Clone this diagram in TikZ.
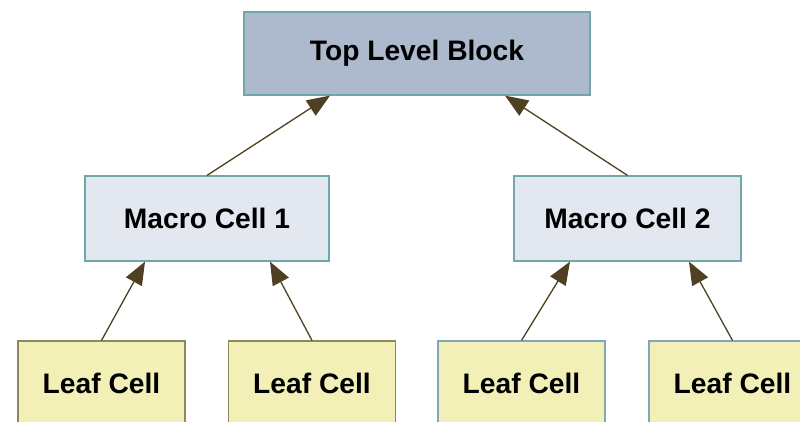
\documentclass[tikz,border=0pt]{standalone}
\usepackage{fontspec}
\setmainfont{Liberation Sans}
\usetikzlibrary{arrows.meta}
\definecolor{topfill}{HTML}{ADBACE}
\definecolor{macrofill}{HTML}{E3E7EF}
\definecolor{leaffill}{HTML}{F2F0B6}
\definecolor{tealline}{HTML}{6FA7AB}
\definecolor{oliveline}{HTML}{8C8A5C}
\definecolor{blueline}{HTML}{80A8B8}
\definecolor{arrowbrown}{HTML}{4E4020}
\tikzstyle{topblock} = [rectangle, minimum width=346pt, minimum height=83pt, text centered, draw=tealline, line width=1.2pt, fill=topfill, font=\fontsize{28.2pt}{33pt}\selectfont\bfseries]
\tikzstyle{macrocell} = [rectangle, minimum height=85pt, text centered, draw=tealline, line width=1.2pt, fill=macrofill, font=\fontsize{28.2pt}{33pt}\selectfont\bfseries]
\tikzstyle{leafcell} = [rectangle, minimum width=167pt, minimum height=85pt, text centered, draw=oliveline, line width=1.2pt, fill=leaffill, font=\fontsize{28.2pt}{33pt}\selectfont\bfseries]
\tikzstyle{arrow} = [line width=1.3pt, draw=arrowbrown, -{Triangle[length=23pt, width=18pt, fill=arrowbrown]}]
\begin{document}
\begin{tikzpicture}[x=1pt, y=1pt, node distance=165pt]
	\useasboundingbox (0,0) rectangle (800,-422);
	\node (top) [topblock] at (417,-53.5) {Top Level Block};

	\node (macro1) [macrocell, minimum width=244pt, below of=top, xshift=-210pt] {Macro Cell 1};
		\draw [arrow] (macro1.north) -- ([xshift=-87pt]top.south);
	\node (macro2) [macrocell, minimum width=227pt, below of=top, xshift=210.5pt] {Macro Cell 2};
		\draw [arrow] (macro2.north) -- ([xshift=88pt]top.south);

	\node (leaf1) [leafcell, below of=macro1, xshift=-105.5pt] {Leaf Cell};
		\draw [arrow] (leaf1.north) -- ([xshift=-62pt]macro1.south);
	\node (leaf2) [leafcell, below of=macro1, xshift=105pt] {Leaf Cell};
		\draw [arrow] (leaf2.north) -- ([xshift=63pt]macro1.south);

	\node (leaf3) [leafcell, draw=blueline, below of=macro2, xshift=-106pt] {Leaf Cell};
		\draw [arrow] (leaf3.north) -- ([xshift=-57.5pt]macro2.south);
	\node (leaf4) [leafcell, draw=blueline, below of=macro2, xshift=105pt] {Leaf Cell};
		\draw [arrow] (leaf4.north) -- ([xshift=61.5pt]macro2.south);
\end{tikzpicture}
\end{document}
